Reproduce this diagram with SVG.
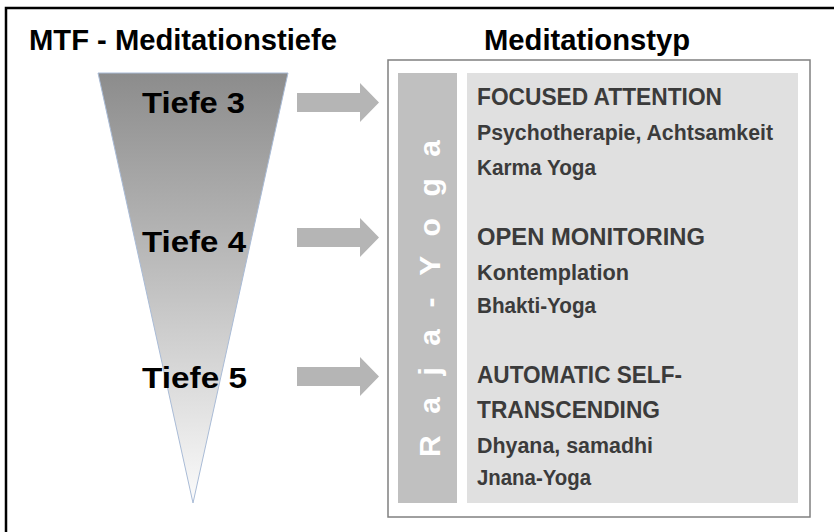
<svg xmlns="http://www.w3.org/2000/svg" width="834" height="532" viewBox="0 0 834 532">
  <defs>
    <linearGradient id="tri" x1="0" y1="0" x2="0" y2="1">
      <stop offset="0" stop-color="#8c8c8c"/>
      <stop offset="0.45" stop-color="#bcbcbc"/>
      <stop offset="1" stop-color="#fbfbfb"/>
    </linearGradient>
    <style>
      text { font-family: "Liberation Sans", Arial, sans-serif; font-weight: bold; }
      .title { font-size: 29px; fill: #000; }
      .tiefe { font-size: 30px; fill: #000; }
      .head { font-size: 24px; fill: #3b3b3b; }
      .item { font-size: 21.5px; fill: #3b3b3b; }
      .arrow { fill: #b5b5b5; }
    </style>
  </defs>
  <rect x="0" y="0" width="834" height="532" fill="#fff"/>
  <!-- outer frame -->
  <path d="M6,532 V8 H834" fill="none" stroke="#000" stroke-width="2.5"/>

  <text class="title" x="29" y="50" textLength="308" lengthAdjust="spacingAndGlyphs">MTF - Meditationstiefe</text>
  <text class="title" x="484" y="50" textLength="206" lengthAdjust="spacingAndGlyphs">Meditationstyp</text>

  <g id="depth-funnel">
    <polygon points="98,73 288,73 193,503" fill="url(#tri)" stroke="#a9bbd6" stroke-width="1"/>
    <text class="tiefe" x="142" y="113" textLength="103" lengthAdjust="spacingAndGlyphs">Tiefe 3</text>
    <text class="tiefe" x="142" y="252" textLength="104" lengthAdjust="spacingAndGlyphs">Tiefe 4</text>
    <text class="tiefe" x="142" y="388" textLength="105" lengthAdjust="spacingAndGlyphs">Tiefe 5</text>
  </g>

  <g id="connectors">
    <path class="arrow" d="M297,93 H360 V83 L379,102.5 L360,122 V112 H297 Z"/>
    <path class="arrow" d="M297,228 H360 V218 L379,237.5 L360,257 V247 H297 Z"/>
    <path class="arrow" d="M297,367 H360 V357 L379,376.5 L360,396 V386 H297 Z"/>
  </g>

  <g id="meditation-types">
    <rect x="388" y="60" width="422" height="457" fill="#fff" stroke="#808080" stroke-width="1.5"/>
    <rect x="398" y="73" width="59" height="430" fill="#c0c0c0"/>
    <rect x="467" y="73" width="331" height="430" fill="#e0e0e0"/>
    <text transform="translate(440,457) rotate(-90)" x="0" y="0" font-size="30" fill="#fff" textLength="317" lengthAdjust="spacing">Raja-Yoga</text>

    <g id="focused-attention">
      <text class="head" x="477" y="105" textLength="245" lengthAdjust="spacingAndGlyphs">FOCUSED ATTENTION</text>
      <text class="item" x="477" y="140" textLength="296" lengthAdjust="spacingAndGlyphs">Psychotherapie, Achtsamkeit</text>
      <text class="item" x="477" y="175" textLength="119" lengthAdjust="spacingAndGlyphs">Karma Yoga</text>
    </g>
    <g id="open-monitoring">
      <text class="head" x="477" y="245" textLength="228" lengthAdjust="spacingAndGlyphs">OPEN MONITORING</text>
      <text class="item" x="477" y="280" textLength="152" lengthAdjust="spacingAndGlyphs">Kontemplation</text>
      <text class="item" x="477" y="313" textLength="119" lengthAdjust="spacingAndGlyphs">Bhakti-Yoga</text>
    </g>
    <g id="automatic-self-transcending">
      <text class="head" x="477" y="383" textLength="205" lengthAdjust="spacingAndGlyphs">AUTOMATIC SELF-</text>
      <text class="head" x="477" y="418" textLength="183" lengthAdjust="spacingAndGlyphs">TRANSCENDING</text>
      <text class="item" x="477" y="453" textLength="176" lengthAdjust="spacingAndGlyphs">Dhyana, samadhi</text>
      <text class="item" x="477" y="485" textLength="114" lengthAdjust="spacingAndGlyphs">Jnana-Yoga</text>
    </g>
  </g>
</svg>
